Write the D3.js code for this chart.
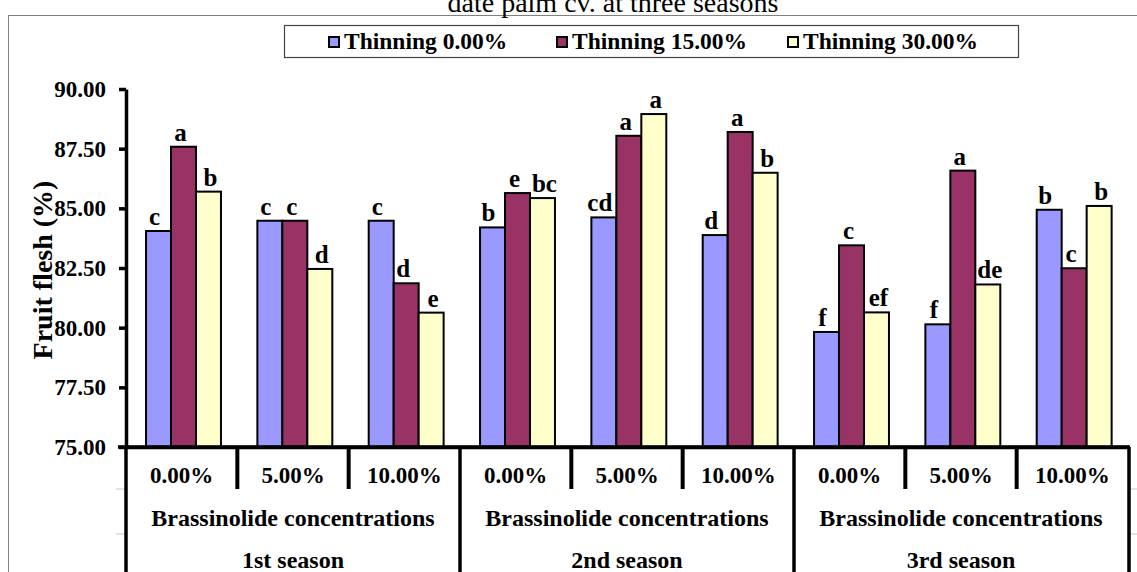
<!DOCTYPE html>
<html>
<head>
<meta charset="utf-8">
<script src="https://cdn.jsdelivr.net/npm/d3@7/dist/d3.min.js"></script>
<style>
  html, body { margin: 0; padding: 0; background: #fff; }
  svg { display: block; }
  text { font-family: "Liberation Serif", "Times New Roman", serif; }
</style>
</head>
<body>
<svg id="chart" width="1137" height="572"></svg>
<script>
// ---------- data ----------
const titleText = "date palm cv. at three seasons";
const yTitle = "Fruit flesh (%)";
const concentrations = ["0.00%", "5.00%", "10.00%"];
const seasons = ["1st season", "2nd season", "3rd season"];
const levelTwoLabel = "Brassinolide concentrations";
const seriesNames = ["Thinning 0.00%", "Thinning 15.00%", "Thinning 30.00%"];
const thinning0  = [84.05, 84.48, 84.48, 84.20, 84.62, 83.88, 79.82, 80.14, 84.94];
const thinning15 = [87.58, 84.48, 81.86, 85.64, 88.04, 88.20, 83.45, 86.58, 82.49];
const thinning30 = [85.70, 82.46, 80.63, 85.43, 88.95, 86.49, 80.64, 81.81, 85.10];
const letters0   = ["c", "c", "c", "b", "cd", "d", "f", "f", "b"];
const letters15  = ["a", "c", "d", "e", "a", "a", "c", "a", "c"];
const letters30  = ["b", "d", "e", "bc", "a", "b", "ef", "de", "b"];
const yTicks = [75, 77.5, 80, 82.5, 85, 87.5, 90];

// ---------- styles ----------
const colors = ["#9999FF", "#993366", "#FFFFCC"];
const labelDx = [-4, -3, 2];

(function () {
const seriesValues = [thinning0, thinning15, thinning30];
const seriesLetters = [letters0, letters15, letters30];
const groups = [];
seasons.forEach((s, si) => concentrations.forEach((c, ci) => groups.push({ season: s, conc: c, idx: si * 3 + ci })));

const svg = d3.select("#chart");

// outer frame
svg.append("rect").attr("x", 8.5).attr("y", 15.5).attr("width", 1200).attr("height", 700)
  .attr("fill", "none").attr("stroke", "#808080").attr("stroke-width", 1);

// title (last line visible, cut at the top as in the source)
svg.append("text").attr("x", 613).attr("y", 12).attr("text-anchor", "middle")
  .attr("font-size", 28).attr("fill", "#000").text(titleText);

// scales
const pLeft = 126, pRight = 1128, pTop = 89, pBottom = 447;
const x = d3.scaleBand().domain(d3.range(groups.length)).range([pLeft, pRight]).padding(0);
const gw = x.bandwidth();
const x1 = d3.scaleBand().domain([0, 1, 2]).range([gw * 0.18, gw * 0.853]).padding(0);
const y = d3.scaleLinear().domain([75, 90]).range([pBottom, pTop]);

// bars
const seriesG = svg.append("g");
seriesValues.forEach((vals, s) => {
  seriesG.selectAll(null).data(groups).enter().append("rect")
    .attr("x", d => x(d.idx) + x1(s))
    .attr("y", d => y(vals[d.idx]))
    .attr("width", x1.bandwidth())
    .attr("height", d => y(75) - y(vals[d.idx]))
    .attr("fill", colors[s]).attr("stroke", "#000").attr("stroke-width", 2);
  seriesG.selectAll(null).data(groups).enter().append("text")
    .attr("x", d => x(d.idx) + x1(s) + x1.bandwidth() / 2 + labelDx[s])
    .attr("y", d => y(vals[d.idx]) - 6)
    .attr("text-anchor", "middle").attr("font-size", 25).attr("font-weight", "bold")
    .text(d => seriesLetters[s][d.idx]);
});

// y axis
const yAxis = d3.axisLeft(y).tickValues(yTicks).tickFormat(d3.format(".2f")).tickSize(7).tickSizeOuter(0).tickPadding(13);
const yg = svg.append("g").attr("transform", `translate(${pLeft},0)`).call(yAxis);
yg.select(".domain").attr("stroke", "#000").attr("stroke-width", 3.5);
yg.selectAll(".tick line").attr("stroke", "#000").attr("stroke-width", 3.5);
yg.selectAll(".tick text").attr("font-family", "Liberation Serif").attr("font-size", 23)
  .attr("font-weight", "bold").attr("fill", "#000");

// y title
svg.append("text").attr("transform", `translate(52,${(pTop + pBottom) / 2 + 2}) rotate(-90)`)
  .attr("text-anchor", "middle").attr("font-size", 28).attr("font-weight", "bold").text(yTitle);

// x axis line
const xAxis = d3.axisBottom(x).tickSize(0).tickFormat("");
const xg = svg.append("g").attr("transform", `translate(0,${pBottom})`).call(xAxis);
xg.select(".domain").attr("stroke", "#000").attr("stroke-width", 3.5);
svg.append("line").attr("x1", 118).attr("x2", 1130).attr("y1", pBottom).attr("y2", pBottom)
  .attr("stroke", "#000").attr("stroke-width", 3.5);

// faint gridline stubs of multi-level axis
[489, 534].forEach(yy => {
  svg.append("line").attr("x1", 116).attr("x2", pLeft).attr("y1", yy).attr("y2", yy).attr("stroke", "#c8c8c8");
  svg.append("line").attr("x1", pRight + 2).attr("x2", 1137).attr("y1", yy).attr("y2", yy).attr("stroke", "#c8c8c8");
});

// separators
d3.range(groups.length + 1).forEach(k => {
  const xp = k === groups.length ? pRight + 1 : x(k);
  const big = k % 3 === 0;
  svg.append("line").attr("x1", xp).attr("x2", xp).attr("y1", pBottom).attr("y2", big ? 575 : 489)
    .attr("stroke", "#000").attr("stroke-width", big ? 3.5 : 4);
});

// category labels
svg.selectAll(null).data(groups).enter().append("text")
  .attr("x", d => x(d.idx) + gw / 2).attr("y", 483)
  .attr("text-anchor", "middle").attr("font-size", 23).attr("font-weight", "bold").text(d => d.conc);
seasons.forEach((s, si) => {
  const cx = x(si * 3) + gw * 1.5;
  svg.append("text").attr("x", cx).attr("y", 526).attr("text-anchor", "middle")
    .attr("font-size", 24).attr("font-weight", "bold").text(levelTwoLabel);
  svg.append("text").attr("x", cx).attr("y", 568).attr("text-anchor", "middle")
    .attr("font-size", 24).attr("font-weight", "bold").text(s);
});

// legend
const lg = svg.append("g");
lg.append("rect").attr("x", 284.5).attr("y", 25.5).attr("width", 734).attr("height", 32)
  .attr("fill", "#fff").attr("stroke", "#444").attr("stroke-width", 1.2);
const legendX = [329, 557, 788];
seriesNames.forEach((n, i) => {
  lg.append("rect").attr("x", legendX[i]).attr("y", 37).attr("width", 10).attr("height", 10)
    .attr("fill", colors[i]).attr("stroke", "#000").attr("stroke-width", 2);
  lg.append("text").attr("x", legendX[i] + 15).attr("y", 49).attr("font-size", 23.5)
    .attr("font-weight", "bold").text(n);
});
})();
</script>
</body>
</html>
